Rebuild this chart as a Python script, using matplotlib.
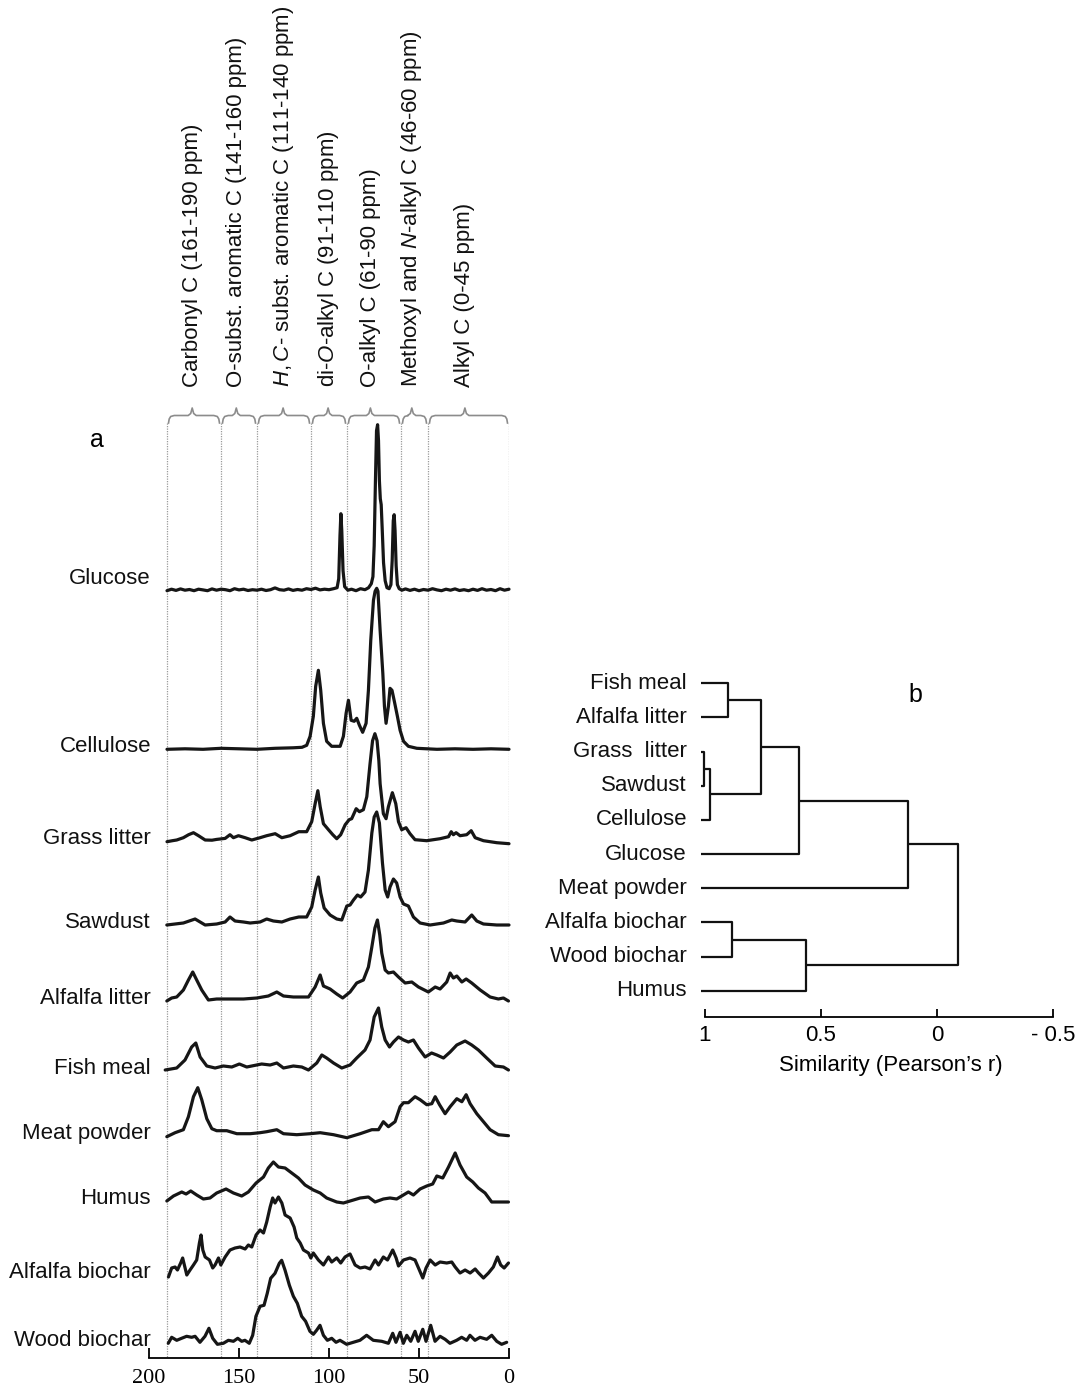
import matplotlib
matplotlib.use('Agg')
import matplotlib.pyplot as plt

plt.rcParams['font.family'] = ['Liberation Sans', 'DejaVu Sans']
plt.rcParams['mathtext.fontset'] = 'custom'
plt.rcParams['mathtext.it'] = 'Liberation Sans:italic'
plt.rcParams['mathtext.rm'] = 'Liberation Sans'

# ---------------- data ----------------
sample_names = ['Glucose', 'Cellulose', 'Grass litter', 'Sawdust', 'Alfalfa litter',
                'Fish meal', 'Meat powder', 'Humus', 'Alfalfa biochar', 'Wood biochar']

glucose_ppm = [190, 187.5, 185, 182.5, 180, 177.5, 175, 172.5, 170, 167.5, 165, 162.5, 160, 157.5, 155,
               152.5, 150, 147.5, 145, 142.5, 140, 137.5, 135, 132.5, 130, 127.5, 125, 122.5, 120, 117.5,
               115, 112.5, 110, 107.5, 105, 102.5, 100, 97.5, 95.5, 94.6, 93.9, 93.4, 92.9, 92.2, 91.3,
               89.5, 87.5, 85, 82.5, 80, 78, 76.5, 75.6, 74.9, 74.2, 73.6, 73.0, 72.5, 72.0, 71.5, 71.0,
               70.4, 69.7, 68.8, 67.8, 66.6, 65.6, 64.9, 64.3, 63.8, 63.3, 62.7, 62.0, 61.0, 59.5, 57.5,
               55, 52.5, 50, 47.5, 45, 42.5, 40, 37.5, 35, 32.5, 30, 27.5, 25, 22.5, 20, 17.5, 15, 12.5,
               10, 7.5, 5, 2.5, 0]
glucose_int = [0, 1.5, 0.3, 1.8, 0.5, 1.2, 0, 1.5, 0.8, 0, 1.8, 0.5, 1.5, 1, 0, 2, 0.8, 1.5, 0.2, 1,
               0.5, 1.5, 0.2, 1, 2.8, 1, 0.5, 1.8, 0.3, 1.2, 0.5, 2, 1.2, 2.5, 0.8, 1.5, 1, 2, 3, 12, 55,
               77, 60, 20, 4, 0.5, 1.5, 0, 2, 1, 3, 7, 14, 45, 110, 160, 166, 150, 110, 92, 86, 60, 28,
               10, 3, 2, 6, 30, 70, 76, 60, 25, 6, 2, 0.5, 1.8, 0.3, 1.5, 0, 1.2, 0.5, 2, 0.8, 0, 1.5,
               0.5, 1.8, 0.2, 1, 0, 1.5, 0.3, 2, 0.5, 1.2, 0, 2, 0.5, 1.5]

cellulose_ppm = [190, 180, 170, 160, 150, 140, 130, 120, 115, 112.4, 110.5, 108.7, 107.4, 105.9, 104.6,
                 103.1, 101.3, 98.5, 93.8, 92, 90.5, 89.2, 87.7, 86, 84.6, 83.1, 81.3, 79.4, 78.1, 76.8,
                 75.3, 74.4, 73.5, 72.8, 71.6, 70.1, 69.2, 68.3, 67, 66.1, 65, 63.7, 62, 60.5, 58.6,
                 55.9, 51.2, 40, 30, 20, 10, 0]
cellulose_int = [0, 0.5, 0, 1, 0.5, 0, 1, 1.5, 2, 4, 13, 33, 63, 79, 59, 26, 8, 3, 3, 13, 36, 49, 29, 28,
                 31, 24, 17, 26, 59, 109, 149, 158, 161, 158, 119, 76, 43, 26, 43, 61, 59, 48, 33, 19, 8,
                 3, 1, 0, 0.5, 0, 0.5, 0]

grass_ppm = [190, 187, 184.6, 180.9, 178, 175.3, 172.5, 168.8, 165, 162.4, 157.7, 155, 153.1, 150.3,
             146.6, 142.9, 138.3, 134.6, 129.9, 126.2, 121.6, 116.8, 112.4, 109.6, 107.7, 106.2, 104.9,
             103.1, 100.3, 97.9, 95.7, 93.5, 91, 88.8, 87.4, 84.9, 83.1, 80.9, 79, 77.2, 75.8, 74.5,
             73.3, 72.3, 71.6, 69.8, 68.3, 67, 64.8, 62.9, 61.4, 59.6, 57.2, 55, 52.2, 45.7, 38.3, 33.6,
             32.1, 30.9, 29.4, 27.2, 23.5, 21, 18.8, 14.2, 6.8, 0]
grass_int = [-1, 0, 0.7, 3, 6, 8, 5, 0.7, 0.5, 1.3, 2.3, 6, 3, 5, 3, 0.7, 3, 5, 7, 3, 5, 9, 9, 19, 37,
             50, 34, 17, 11, 6, 2, 6, 16, 21, 22, 32, 29, 31, 44, 77, 100, 107, 100, 80, 57, 27, 22, 34,
             48, 37, 19, 11, 13, 7, 1, 0, 2, 4, 9, 6, 8, 5, 6, 10, 3, 0, -2, -3]

sawdust_ppm = [190.1, 180.9, 174.4, 168.8, 162.4, 157.7, 155, 152.2, 147.5, 143.8, 138.3, 134.6, 130.9,
               126.2, 121.6, 116.8, 112.4, 109.6, 107.7, 105.9, 104.6, 102.7, 99.4, 95.7, 92.9, 90.1,
               88.3, 86.4, 84.2, 82.4, 80, 78.1, 76.2, 74.9, 73.5, 72, 70.3, 68.8, 67.4, 66.1, 64.2,
               62.4, 60.5, 58.6, 55.9, 53.1, 49.4, 43.8, 36.4, 31.8, 29, 24.4, 20.7, 17.9, 14.2, 6.8, 0]
sawdust_int = [0, 2, 6, 0, 1, 3, 8, 4, 3, 2, 3, 6, 4, 3, 6, 8, 8, 18, 35, 48, 32, 17, 10, 6, 5, 19, 20,
               25, 30, 28, 33, 55, 92, 108, 113, 102, 62, 35, 28, 38, 46, 42, 28, 21, 19, 8, 2, 0, 2, 5,
               4, 3, 10, 4, 1, 0, 0]

alfalfa_litter_ppm = [190.1, 187.4, 184.6, 180.9, 178.1, 175.7, 173.5, 170.7, 167, 162.4, 155, 147.5,
                      140.1, 133.7, 129, 125.3, 119.8, 111.4, 107.7, 104.9, 103.1, 99.4, 95.7, 92.4, 88.3,
                      84.6, 80.9, 78.1, 76.2, 74.5, 73.1, 71.8, 70.7, 68.8, 67, 64.2, 61.4, 57.7, 54,
                      50.3, 44.8, 41, 38.3, 34.6, 32.7, 30.9, 29, 26.2, 23.8, 20.7, 16, 10.5, 5.9, 3.1, 0.3]
alfalfa_litter_int = [-1, 2, 3, 10, 20, 28, 20, 10, 0, 1, 1, 1, 2, 4, 8, 4, 3, 3, 13, 25, 14, 11, 6, 2,
                      8, 17, 20, 33, 53, 72, 80, 65, 47, 30, 27, 28, 23, 17, 18, 13, 8, 13, 11, 18, 27,
                      22, 24, 18, 21, 17, 10, 3, 1, 2, -1]

fish_ppm = [191, 184.6, 180, 176.3, 174, 171.6, 167.9, 163.3, 158.7, 154, 149.8, 145.7, 137.4, 132.7,
            129, 125.3, 119.8, 115.1, 111.4, 106.8, 104, 101.3, 97.5, 92.9, 88.3, 84.6, 80, 77.2, 74.9,
            72.5, 70.7, 68.8, 66.4, 64.2, 61.4, 58.6, 55.9, 53.1, 50.3, 46.6, 43, 40.1, 36.4, 32.7, 29,
            24.4, 20.7, 17, 12.4, 7.7, 3.1, 0.3]
fish_int = [0, 2, 10, 23, 27, 13, 4, 2, 4, 3, 6, 3, 6, 5, 7, 2, 4, 3, 0, 7, 15, 12, 7, 2, 5, 12, 20, 30,
            53, 62, 43, 30, 23, 28, 33, 30, 28, 30, 22, 13, 17, 15, 12, 18, 25, 29, 25, 20, 12, 4, 3, 0]

meat_ppm = [190.1, 185.5, 180.9, 178.1, 175.3, 172.9, 170.7, 167.9, 165.1, 162.4, 156.8, 151.2, 143.8,
            138.3, 134.6, 129, 125.3, 117.9, 110.5, 104.9, 97.5, 90.1, 82.7, 76.2, 72.5, 69.8, 67, 63.3,
            60.5, 58.6, 55.9, 52.2, 49.4, 45.7, 42.9, 41, 38.6, 35.5, 32.7, 29, 26.2, 23.8, 21.6, 17.9,
            14.2, 10.5, 5.9, 0.3]
meat_int = [0, 4, 7, 20, 40, 49, 37, 18, 8, 6, 6, 3, 3, 4, 5, 7, 3, 2, 3, 4, 2, -1, 3, 7, 7, 15, 10, 15,
            30, 34, 34, 40, 37, 32, 33, 40, 32, 23, 30, 38, 35, 42, 33, 23, 15, 7, 2, 1]

humus_ppm = [190.1, 186.4, 181.8, 179.4, 176.8, 173.5, 169.8, 166.1, 162.4, 157.2, 153.1, 148.5, 144.8,
             140.5, 136.4, 133.7, 130.9, 128.1, 124.4, 120.7, 117, 113.3, 108.7, 104.9, 101.3, 95.7, 92,
             86.4, 82.7, 78.1, 74.4, 69.8, 66.1, 62.4, 59.6, 55.9, 53.1, 49.4, 45.7, 42.4, 40.1, 36.8,
             33.6, 29.9, 27.2, 23.5, 20.1, 17, 13.3, 9.6, 5, 0.3]
humus_int = [-1, 4, 8, 6, 9, 5, 1, 2, 7, 11, 7, 4, 8, 17, 23, 32, 38, 33, 32, 27, 22, 15, 10, 7, 2, -2,
             -3, 0, 2, 3, -2, 1, 2, 1, 4, 8, 5, 11, 14, 16, 24, 22, 33, 47, 35, 23, 18, 12, 7, -2, -2, -2]

alfalfa_biochar_ppm = [189.2, 187.4, 185.5, 184.2, 182.4, 181.3, 179, 177.2, 175.3, 173.5, 172, 171.1,
                       170.1, 168.8, 166.4, 164.6, 163.3, 161.4, 160.1, 157.7, 155, 152.2, 149.4, 146.6,
                       144.8, 142.9, 140.5, 138.3, 136.4, 134.6, 132.7, 131.3, 130, 128.1, 126.2, 124.4,
                       121.6, 119.4, 117.9, 116, 114.2, 111.4, 110.1, 108.7, 105.9, 103.1, 100.3, 98.5,
                       95.7, 93.5, 91.1, 88.3, 85.5, 82.7, 80, 77.2, 74.4, 72.5, 69.8, 67.5, 64.6, 62.7,
                       61.4, 58.6, 55, 52.2, 49.8, 47.9, 46.1, 43.8, 41, 38.3, 34.6, 31.8, 29.9, 27.2,
                       24.4, 21.6, 18.8, 16.9, 14.2, 11.4, 8.7, 6.4, 4.6, 2.7, 0.3]
alfalfa_biochar_int = [-2, 7, 8, 5, 12, 17, 0, 5, 10, 15, 32, 40, 25, 18, 15, 7, 10, 17, 10, 18, 25, 27,
                       28, 26, 30, 28, 40, 45, 42, 53, 68, 77, 72, 78, 72, 60, 57, 48, 37, 32, 25, 22,
                       17, 22, 15, 10, 18, 13, 17, 12, 18, 21, 10, 7, 8, 6, 15, 10, 18, 15, 25, 17, 9,
                       15, 17, 15, 5, -3, 7, 15, 10, 13, 12, 13, 8, 2, 5, 2, 6, 2, -3, 2, 8, 18, 10, 7, 12]

wood_biochar_ppm = [189.3, 187.4, 184.6, 181.9, 179.1, 176.3, 174.4, 171.7, 168.9, 166.7, 164.6, 162,
                    158.7, 155.9, 153.1, 150.7, 148.5, 146.7, 144.3, 142.4, 140.6, 138.3, 136.1, 134.3,
                    132.4, 130, 127.6, 126.3, 124.4, 122, 119.8, 117.6, 115.2, 113, 110.6, 108.7, 106.9,
                    105, 103.1, 100.9, 98.5, 96.1, 93.9, 90.2, 86.5, 82.8, 79.1, 75.4, 70.7, 67, 64.6,
                    62.8, 60.5, 58.7, 56.8, 54.6, 52.2, 50.4, 47.9, 46.1, 43.5, 41.1, 38.3, 35.5, 32.8,
                    29.1, 26.3, 23.5, 21.7, 18.9, 16.1, 12.4, 9.6, 6.8, 4.1, 1.3]
wood_biochar_int = [0, 6, 3, 5, 7, 6, 7, 1, 7, 15, 5, -1, 0, 3, 2, 5, 2, 3, 0, 8, 27, 37, 38, 50, 65, 70,
                    80, 83, 73, 58, 47, 40, 27, 22, 12, 9, 13, 18, 8, 3, 5, 1, 3, -1, 1, 3, 8, 3, 2, 0,
                    10, 1, 11, 0, 8, 2, 12, 2, 14, 2, 18, 2, 7, 4, 0, 3, 6, 3, 8, 3, 6, 4, 8, 2, -1, 1]

region_bounds = [190, 160, 140, 110, 90, 60, 45, 0]
region_tips = [176, 151.5, 125.5, 100.5, 77, 54, 24.5]
region_labels = ['Carbonyl C (161-190 ppm)',
                 'O-subst. aromatic C (141-160 ppm)',
                 r'$\mathit{H,C}$- subst. aromatic C (111-140 ppm)',
                 r'di-$\mathit{O}$-alkyl C (91-110 ppm)',
                 'O-alkyl C (61-90 ppm)',
                 r'Methoxyl and $\mathit{N}$-alkyl C (46-60 ppm)',
                 'Alkyl C (0-45 ppm)']
ppm_ticks = [200, 150, 100, 50, 0]

dendro_leaves = ['Fish meal', 'Alfalfa litter', 'Grass  litter', 'Sawdust', 'Cellulose', 'Glucose',
                 'Meat powder', 'Alfalfa biochar', 'Wood biochar', 'Humus']
# merges: (cluster a, cluster b, similarity r); new clusters numbered from 10
dendro_merges = [(0, 1, 0.90), (2, 3, 1.003), (11, 4, 0.978), (10, 12, 0.76), (13, 5, 0.594),
                 (14, 6, 0.126), (7, 8, 0.885), (16, 9, 0.566), (15, 17, -0.089)]
r_ticks = [1, 0.5, 0, -0.5]
r_tick_labels = ['1', '0.5', '0', '- 0.5']

# ---------------- layout ----------------
W, H = 1075, 1393
fig = plt.figure(figsize=(W / 100, H / 100), dpi=100)
FS = 16

baselines = [590.7, 749.3, 840.7, 925, 1000, 1070, 1136.7, 1200, 1275, 1343.3]
label_y = [579, 747, 839, 923, 999, 1068, 1134, 1199, 1272, 1340]
spectra = [(glucose_ppm, glucose_int), (cellulose_ppm, cellulose_int), (grass_ppm, grass_int),
           (sawdust_ppm, sawdust_int), (alfalfa_litter_ppm, alfalfa_litter_int), (fish_ppm, fish_int),
           (meat_ppm, meat_int), (humus_ppm, humus_int), (alfalfa_biochar_ppm, alfalfa_biochar_int),
           (wood_biochar_ppm, wood_biochar_int)]

AX_L, AX_R, AX_B = 149, 509, 1358
ax = fig.add_axes([AX_L / W, 1 - AX_B / H, (AX_R - AX_L) / W, AX_B / H])
ax.set_xlim(200, 0)
ax.set_ylim(AX_B, 0)
ppm_per_px = 200 / (AX_R - AX_L)

for s in ['left', 'top', 'right']:
    ax.spines[s].set_visible(False)
ax.spines['bottom'].set_linewidth(1.3)
ax.set_yticks([])
ax.set_xticks(ppm_ticks)
ax.set_xticklabels([str(t) for t in ppm_ticks], fontfamily='Liberation Serif', fontsize=FS)
ax.tick_params(axis='x', direction='in', length=7, width=1.3, pad=8)

# dotted region boundaries
for b in region_bounds:
    ax.plot([b, b], [423, AX_B], ls=(0, (1, 1)), color='#9a9a9a', lw=0.9, zorder=1)

# braces
def brace(xl, xr, tip):
    d = ppm_per_px
    xs = [xl - 0.3 * d, xl - 1 * d, xl - 2.5 * d, xl - 6 * d, tip + 4 * d, tip + 1.5 * d, tip,
          tip - 1.5 * d, tip - 4 * d, xr + 6 * d, xr + 2.5 * d, xr + 1 * d, xr + 0.3 * d]
    ys = [423, 419, 416.5, 415.5, 415.5, 413.5, 408, 413.5, 415.5, 415.5, 416.5, 419, 423]
    ax.plot(xs, ys, color='#8c8c8c', lw=1.2, clip_on=False, solid_joinstyle='round')

for i in range(len(region_tips)):
    brace(region_bounds[i] - 1.2 * ppm_per_px, region_bounds[i + 1] + 1.2 * ppm_per_px, region_tips[i])
    ax.text(region_tips[i], 387, region_labels[i], rotation=90, ha='center', va='bottom',
            fontsize=FS, color='#111111')

# spectra
for (pp, ii), base, name, ly in zip(spectra, baselines, sample_names, label_y):
    ax.plot(pp, [base - v for v in ii], color='#161616', lw=2.3, solid_joinstyle='round',
            solid_capstyle='round', clip_on=False, zorder=3)
    ax.text(200 - (151 - AX_L) * ppm_per_px, ly, name, ha='right', va='center', fontsize=FS,
            color='#111111', clip_on=False)

fig.text(97 / W, 1 - 440 / H, 'a', ha='center', va='center', fontsize=18)

# ---------------- dendrogram ----------------
D_L, D_R, D_B, D_T = 705, 1053, 1016.7, 660
ax2 = fig.add_axes([D_L / W, 1 - D_B / H, (D_R - D_L) / W, (D_B - D_T) / H])
ax2.set_xlim(1, -0.5)
ax2.set_ylim(D_B, D_T)
for s in ['left', 'top', 'right']:
    ax2.spines[s].set_visible(False)
ax2.spines['bottom'].set_linewidth(1.3)
ax2.set_yticks([])
ax2.set_xticks(r_ticks)
ax2.set_xticklabels(r_tick_labels, fontsize=FS)
ax2.tick_params(axis='x', direction='in', length=6, width=1.3, pad=6)

leaf_y0, leaf_dy = 683.3, 34.16
leaf_r0 = 1.017
pos_y = [leaf_y0 + i * leaf_dy for i in range(len(dendro_leaves))]
pos_x = [leaf_r0] * len(dendro_leaves)
for a, b, r in dendro_merges:
    ax2.plot([pos_x[a], r, r, pos_x[b]], [pos_y[a], pos_y[a], pos_y[b], pos_y[b]],
             color='#111111', lw=1.6, clip_on=False, solid_capstyle='butt')
    pos_x.append(r)
    pos_y.append((pos_y[a] + pos_y[b]) / 2)

for name, y in zip(dendro_leaves, pos_y[:len(dendro_leaves)]):
    fig.text(687 / W, 1 - y / H, name, ha='right', va='center', fontsize=FS, color='#111111')

fig.text(891 / W, 1 - 1066 / H, 'Similarity (Pearson\u2019s r)', ha='center', va='center', fontsize=FS)
fig.text(915 / W, 1 - 695 / H, 'b', ha='center', va='center', fontsize=18)

fig.savefig('out.png', dpi=100)
